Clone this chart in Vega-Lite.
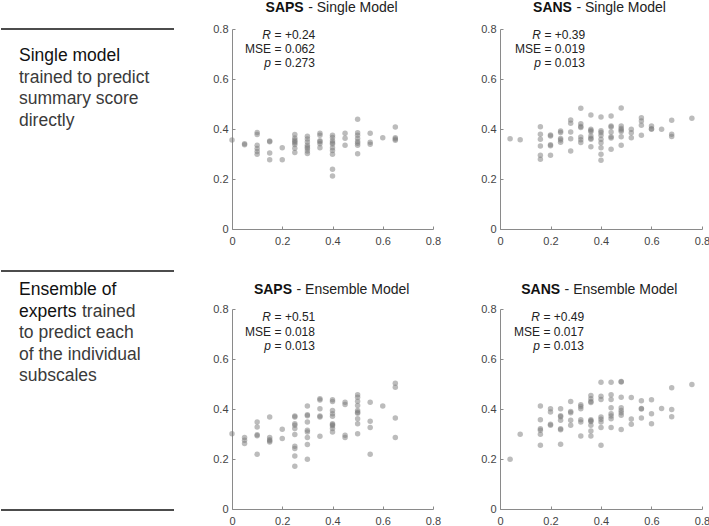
{
  "$schema": "https://vega.github.io/schema/vega-lite/v6.json",
  "padding": {"top": 1, "left": 0, "right": 0, "bottom": 0},
  "background": "white",
  "config": {
    "view": {"stroke": null},
    "font": "Liberation Sans",
    "axis": {"grid": false, "title": null}
  },
  "datasets": {
    "pts": [
      {"p":"A","x":0,"y":0.356},
      {"p":"A","x":0.05,"y":0.337},{"p":"A","x":0.05,"y":0.341},
      {"p":"A","x":0.1,"y":0.386},{"p":"A","x":0.1,"y":0.378},{"p":"A","x":0.1,"y":0.335},{"p":"A","x":0.1,"y":0.322},{"p":"A","x":0.1,"y":0.31},{"p":"A","x":0.1,"y":0.299},
      {"p":"A","x":0.15,"y":0.352},{"p":"A","x":0.15,"y":0.349},{"p":"A","x":0.15,"y":0.304},{"p":"A","x":0.15,"y":0.277},
      {"p":"A","x":0.2,"y":0.325},{"p":"A","x":0.2,"y":0.277},
      {"p":"A","x":0.25,"y":0.378},{"p":"A","x":0.25,"y":0.364},{"p":"A","x":0.25,"y":0.356},{"p":"A","x":0.25,"y":0.35},{"p":"A","x":0.25,"y":0.345},{"p":"A","x":0.25,"y":0.338},{"p":"A","x":0.25,"y":0.323},{"p":"A","x":0.25,"y":0.306},
      {"p":"A","x":0.3,"y":0.371},{"p":"A","x":0.3,"y":0.36},{"p":"A","x":0.3,"y":0.348},{"p":"A","x":0.3,"y":0.335},{"p":"A","x":0.3,"y":0.328},{"p":"A","x":0.3,"y":0.322},{"p":"A","x":0.3,"y":0.312},{"p":"A","x":0.3,"y":0.302},
      {"p":"A","x":0.35,"y":0.383},{"p":"A","x":0.35,"y":0.375},{"p":"A","x":0.35,"y":0.353},{"p":"A","x":0.35,"y":0.349},{"p":"A","x":0.35,"y":0.341},{"p":"A","x":0.35,"y":0.325},
      {"p":"A","x":0.4,"y":0.375},{"p":"A","x":0.4,"y":0.366},{"p":"A","x":0.4,"y":0.353},{"p":"A","x":0.4,"y":0.345},{"p":"A","x":0.4,"y":0.34},{"p":"A","x":0.4,"y":0.325},{"p":"A","x":0.4,"y":0.314},{"p":"A","x":0.4,"y":0.299},{"p":"A","x":0.4,"y":0.239},{"p":"A","x":0.4,"y":0.212},
      {"p":"A","x":0.45,"y":0.383},{"p":"A","x":0.45,"y":0.363},{"p":"A","x":0.45,"y":0.335},
      {"p":"A","x":0.5,"y":0.439},{"p":"A","x":0.5,"y":0.385},{"p":"A","x":0.5,"y":0.375},{"p":"A","x":0.5,"y":0.362},{"p":"A","x":0.5,"y":0.35},{"p":"A","x":0.5,"y":0.343},{"p":"A","x":0.5,"y":0.335},{"p":"A","x":0.5,"y":0.301},
      {"p":"A","x":0.55,"y":0.383},{"p":"A","x":0.55,"y":0.347},{"p":"A","x":0.55,"y":0.339},
      {"p":"A","x":0.6,"y":0.365},
      {"p":"A","x":0.65,"y":0.408},{"p":"A","x":0.65,"y":0.365},{"p":"A","x":0.65,"y":0.36},{"p":"A","x":0.65,"y":0.355},

      {"p":"B","x":0.04,"y":0.361},
      {"p":"B","x":0.08,"y":0.357},
      {"p":"B","x":0.16,"y":0.409},{"p":"B","x":0.16,"y":0.379},{"p":"B","x":0.16,"y":0.359},{"p":"B","x":0.16,"y":0.332},{"p":"B","x":0.16,"y":0.295},{"p":"B","x":0.16,"y":0.279},
      {"p":"B","x":0.2,"y":0.376},{"p":"B","x":0.2,"y":0.372},{"p":"B","x":0.2,"y":0.337},{"p":"B","x":0.2,"y":0.333},{"p":"B","x":0.2,"y":0.295},
      {"p":"B","x":0.24,"y":0.392},{"p":"B","x":0.24,"y":0.386},{"p":"B","x":0.24,"y":0.362},{"p":"B","x":0.24,"y":0.356},{"p":"B","x":0.24,"y":0.347},
      {"p":"B","x":0.28,"y":0.436},{"p":"B","x":0.28,"y":0.423},{"p":"B","x":0.28,"y":0.388},{"p":"B","x":0.28,"y":0.361},{"p":"B","x":0.28,"y":0.312},
      {"p":"B","x":0.32,"y":0.483},{"p":"B","x":0.32,"y":0.421},{"p":"B","x":0.32,"y":0.41},{"p":"B","x":0.32,"y":0.406},{"p":"B","x":0.32,"y":0.368},{"p":"B","x":0.32,"y":0.357},{"p":"B","x":0.32,"y":0.346},
      {"p":"B","x":0.36,"y":0.456},{"p":"B","x":0.36,"y":0.399},{"p":"B","x":0.36,"y":0.394},{"p":"B","x":0.36,"y":0.389},{"p":"B","x":0.36,"y":0.372},{"p":"B","x":0.36,"y":0.363},{"p":"B","x":0.36,"y":0.359},{"p":"B","x":0.36,"y":0.329},
      {"p":"B","x":0.4,"y":0.448},{"p":"B","x":0.4,"y":0.393},{"p":"B","x":0.4,"y":0.386},{"p":"B","x":0.4,"y":0.375},{"p":"B","x":0.4,"y":0.359},{"p":"B","x":0.4,"y":0.345},{"p":"B","x":0.4,"y":0.325},{"p":"B","x":0.4,"y":0.299},{"p":"B","x":0.4,"y":0.275},
      {"p":"B","x":0.44,"y":0.452},{"p":"B","x":0.44,"y":0.412},{"p":"B","x":0.44,"y":0.408},{"p":"B","x":0.44,"y":0.388},{"p":"B","x":0.44,"y":0.369},{"p":"B","x":0.44,"y":0.364},{"p":"B","x":0.44,"y":0.319},
      {"p":"B","x":0.48,"y":0.484},{"p":"B","x":0.48,"y":0.412},{"p":"B","x":0.48,"y":0.402},{"p":"B","x":0.48,"y":0.396},{"p":"B","x":0.48,"y":0.39},{"p":"B","x":0.48,"y":0.369},{"p":"B","x":0.48,"y":0.335},
      {"p":"B","x":0.52,"y":0.399},{"p":"B","x":0.52,"y":0.385},{"p":"B","x":0.52,"y":0.365},
      {"p":"B","x":0.56,"y":0.445},{"p":"B","x":0.56,"y":0.432},{"p":"B","x":0.56,"y":0.415},{"p":"B","x":0.56,"y":0.375},
      {"p":"B","x":0.6,"y":0.412},{"p":"B","x":0.6,"y":0.401},{"p":"B","x":0.6,"y":0.399},
      {"p":"B","x":0.64,"y":0.399},
      {"p":"B","x":0.68,"y":0.435},{"p":"B","x":0.68,"y":0.379},{"p":"B","x":0.68,"y":0.37},
      {"p":"B","x":0.76,"y":0.443},

      {"p":"C","x":0,"y":0.301},
      {"p":"C","x":0.05,"y":0.286},{"p":"C","x":0.05,"y":0.275},{"p":"C","x":0.05,"y":0.262},
      {"p":"C","x":0.1,"y":0.348},{"p":"C","x":0.1,"y":0.328},{"p":"C","x":0.1,"y":0.297},{"p":"C","x":0.1,"y":0.293},{"p":"C","x":0.1,"y":0.219},
      {"p":"C","x":0.15,"y":0.368},{"p":"C","x":0.15,"y":0.286},{"p":"C","x":0.15,"y":0.277},{"p":"C","x":0.15,"y":0.273},{"p":"C","x":0.15,"y":0.268},
      {"p":"C","x":0.2,"y":0.319},{"p":"C","x":0.2,"y":0.282},
      {"p":"C","x":0.25,"y":0.372},{"p":"C","x":0.25,"y":0.368},{"p":"C","x":0.25,"y":0.341},{"p":"C","x":0.25,"y":0.335},{"p":"C","x":0.25,"y":0.322},{"p":"C","x":0.25,"y":0.298},{"p":"C","x":0.25,"y":0.251},{"p":"C","x":0.25,"y":0.242},{"p":"C","x":0.25,"y":0.212},{"p":"C","x":0.25,"y":0.171},
      {"p":"C","x":0.3,"y":0.412},{"p":"C","x":0.3,"y":0.377},{"p":"C","x":0.3,"y":0.373},{"p":"C","x":0.3,"y":0.348},{"p":"C","x":0.3,"y":0.315},{"p":"C","x":0.3,"y":0.308},{"p":"C","x":0.3,"y":0.286},{"p":"C","x":0.3,"y":0.258},{"p":"C","x":0.3,"y":0.199},
      {"p":"C","x":0.35,"y":0.441},{"p":"C","x":0.35,"y":0.436},{"p":"C","x":0.35,"y":0.401},{"p":"C","x":0.35,"y":0.372},{"p":"C","x":0.35,"y":0.368},{"p":"C","x":0.35,"y":0.291},
      {"p":"C","x":0.4,"y":0.437},{"p":"C","x":0.4,"y":0.43},{"p":"C","x":0.4,"y":0.394},{"p":"C","x":0.4,"y":0.381},{"p":"C","x":0.4,"y":0.371},{"p":"C","x":0.4,"y":0.341},{"p":"C","x":0.4,"y":0.337},{"p":"C","x":0.4,"y":0.333},{"p":"C","x":0.4,"y":0.322},{"p":"C","x":0.4,"y":0.308},
      {"p":"C","x":0.45,"y":0.427},{"p":"C","x":0.45,"y":0.418},{"p":"C","x":0.45,"y":0.295},{"p":"C","x":0.45,"y":0.286},
      {"p":"C","x":0.5,"y":0.457},{"p":"C","x":0.5,"y":0.447},{"p":"C","x":0.5,"y":0.431},{"p":"C","x":0.5,"y":0.414},{"p":"C","x":0.5,"y":0.394},{"p":"C","x":0.5,"y":0.387},{"p":"C","x":0.5,"y":0.383},{"p":"C","x":0.5,"y":0.361},{"p":"C","x":0.5,"y":0.341},{"p":"C","x":0.5,"y":0.301},
      {"p":"C","x":0.55,"y":0.427},{"p":"C","x":0.55,"y":0.351},{"p":"C","x":0.55,"y":0.326},{"p":"C","x":0.55,"y":0.219},
      {"p":"C","x":0.6,"y":0.412},
      {"p":"C","x":0.65,"y":0.503},{"p":"C","x":0.65,"y":0.487},{"p":"C","x":0.65,"y":0.364},{"p":"C","x":0.65,"y":0.286},

      {"p":"D","x":0.04,"y":0.199},
      {"p":"D","x":0.08,"y":0.299},
      {"p":"D","x":0.16,"y":0.412},{"p":"D","x":0.16,"y":0.357},{"p":"D","x":0.16,"y":0.321},{"p":"D","x":0.16,"y":0.315},{"p":"D","x":0.16,"y":0.299},{"p":"D","x":0.16,"y":0.255},
      {"p":"D","x":0.2,"y":0.401},{"p":"D","x":0.2,"y":0.388},{"p":"D","x":0.2,"y":0.339},{"p":"D","x":0.2,"y":0.335},
      {"p":"D","x":0.24,"y":0.401},{"p":"D","x":0.24,"y":0.373},{"p":"D","x":0.24,"y":0.369},{"p":"D","x":0.24,"y":0.355},{"p":"D","x":0.24,"y":0.321},{"p":"D","x":0.24,"y":0.317},{"p":"D","x":0.24,"y":0.259},
      {"p":"D","x":0.28,"y":0.43},{"p":"D","x":0.28,"y":0.39},{"p":"D","x":0.28,"y":0.385},{"p":"D","x":0.28,"y":0.355},{"p":"D","x":0.28,"y":0.335},
      {"p":"D","x":0.32,"y":0.417},{"p":"D","x":0.32,"y":0.41},{"p":"D","x":0.32,"y":0.401},{"p":"D","x":0.32,"y":0.357},{"p":"D","x":0.32,"y":0.348},{"p":"D","x":0.32,"y":0.292},
      {"p":"D","x":0.36,"y":0.454},{"p":"D","x":0.36,"y":0.441},{"p":"D","x":0.36,"y":0.43},{"p":"D","x":0.36,"y":0.426},{"p":"D","x":0.36,"y":0.357},{"p":"D","x":0.36,"y":0.353},{"p":"D","x":0.36,"y":0.35},{"p":"D","x":0.36,"y":0.335},{"p":"D","x":0.36,"y":0.312},{"p":"D","x":0.36,"y":0.292},
      {"p":"D","x":0.4,"y":0.507},{"p":"D","x":0.4,"y":0.451},{"p":"D","x":0.4,"y":0.438},{"p":"D","x":0.4,"y":0.368},{"p":"D","x":0.4,"y":0.359},{"p":"D","x":0.4,"y":0.348},{"p":"D","x":0.4,"y":0.326},{"p":"D","x":0.4,"y":0.255},
      {"p":"D","x":0.44,"y":0.507},{"p":"D","x":0.44,"y":0.457},{"p":"D","x":0.44,"y":0.438},{"p":"D","x":0.44,"y":0.405},{"p":"D","x":0.44,"y":0.381},{"p":"D","x":0.44,"y":0.372},{"p":"D","x":0.44,"y":0.361},{"p":"D","x":0.44,"y":0.326},
      {"p":"D","x":0.48,"y":0.51},{"p":"D","x":0.48,"y":0.508},{"p":"D","x":0.48,"y":0.447},{"p":"D","x":0.48,"y":0.405},{"p":"D","x":0.48,"y":0.394},{"p":"D","x":0.48,"y":0.385},{"p":"D","x":0.48,"y":0.375},{"p":"D","x":0.48,"y":0.318},
      {"p":"D","x":0.52,"y":0.446},{"p":"D","x":0.52,"y":0.36},{"p":"D","x":0.52,"y":0.339},
      {"p":"D","x":0.56,"y":0.433},{"p":"D","x":0.56,"y":0.402},{"p":"D","x":0.56,"y":0.4},{"p":"D","x":0.56,"y":0.364},
      {"p":"D","x":0.6,"y":0.437},{"p":"D","x":0.6,"y":0.381},{"p":"D","x":0.6,"y":0.341},
      {"p":"D","x":0.64,"y":0.402},
      {"p":"D","x":0.68,"y":0.485},{"p":"D","x":0.68,"y":0.398},{"p":"D","x":0.68,"y":0.369},
      {"p":"D","x":0.76,"y":0.498}
    ]
  },
  "columns": 3,
  "spacing": {"row": 80, "column": 67},
  "bounds": "flush",
  "concat": [
    {
      "width": 164, "height": 200,
      "layer": [
        {"data": {"values": [{}]}, "mark": {"type": "rule", "color": "#111111", "strokeWidth": 1.5},
         "encoding": {"x": {"datum": 0, "type": "quantitative", "scale": {"domain": [0, 164], "nice": false}, "axis": null}, "x2": {"datum": 173}, "y": {"datum": 0.8, "type": "quantitative", "scale": {"domain": [0, 0.8], "nice": false}, "axis": null}}},
        {"data": {"values": [{}]}, "mark": {"type": "text", "fontSize": 17.5, "align": "left", "baseline": "middle", "color": "#111111"},
         "encoding": {"x": {"datum": 18, "type": "quantitative", "scale": {"domain": [0, 164], "nice": false}, "axis": null}, "y": {"datum": 0.692, "type": "quantitative", "scale": {"domain": [0, 0.8], "nice": false}, "axis": null}, "text": {"value": "Single model"}}},
        {"data": {"values": [{}]}, "mark": {"type": "text", "fontSize": 17.5, "align": "left", "baseline": "middle", "color": "#3a3a3a"},
         "encoding": {"x": {"datum": 18, "type": "quantitative", "scale": {"domain": [0, 164], "nice": false}, "axis": null}, "y": {"datum": 0.606, "type": "quantitative", "scale": {"domain": [0, 0.8], "nice": false}, "axis": null}, "text": {"value": "trained to predict"}}},
        {"data": {"values": [{}]}, "mark": {"type": "text", "fontSize": 17.5, "align": "left", "baseline": "middle", "color": "#3a3a3a"},
         "encoding": {"x": {"datum": 18, "type": "quantitative", "scale": {"domain": [0, 164], "nice": false}, "axis": null}, "y": {"datum": 0.52, "type": "quantitative", "scale": {"domain": [0, 0.8], "nice": false}, "axis": null}, "text": {"value": "summary score"}}},
        {"data": {"values": [{}]}, "mark": {"type": "text", "fontSize": 17.5, "align": "left", "baseline": "middle", "color": "#3a3a3a"},
         "encoding": {"x": {"datum": 18, "type": "quantitative", "scale": {"domain": [0, 164], "nice": false}, "axis": null}, "y": {"datum": 0.434, "type": "quantitative", "scale": {"domain": [0, 0.8], "nice": false}, "axis": null}, "text": {"value": "directly"}}}
      ]
    },
    {
      "width": 201, "height": 200,
      "layer": [
        {"data": {"name": "pts"}, "transform": [{"filter": "datum.p === 'A'"}],
         "mark": {"type": "circle", "size": 30, "color": "#7a7a7a", "opacity": 0.5},
         "encoding": {
           "x": {"field": "x", "type": "quantitative", "scale": {"domain": [0, 0.8], "nice": false},
                 "axis": {"title": null, "grid": false, "values": [0, 0.2, 0.4, 0.6, 0.8], "format": "~g", "labelFlush": false, "domainColor": "#8a8a8a", "tickColor": "#8a8a8a", "tickSize": -3, "labelColor": "#444444", "labelFontSize": 11, "labelPadding": 9}},
           "y": {"field": "y", "type": "quantitative", "scale": {"domain": [0, 0.8], "nice": false},
                 "axis": {"title": null, "grid": false, "values": [0, 0.2, 0.4, 0.6, 0.8], "format": "~g", "labelFlush": false, "domainColor": "#8a8a8a", "tickColor": "#8a8a8a", "tickSize": -3, "labelColor": "#444444", "labelFontSize": 11, "labelPadding": 7}}}},
        {"data": {"values": [{}]}, "mark": {"type": "text", "fontSize": 14, "fontWeight": "bold", "align": "right", "baseline": "middle", "color": "#111111"},
         "encoding": {"x": {"datum": 0.2854, "type": "quantitative", "scale": {"domain": [0, 0.8], "nice": false}}, "y": {"datum": 0.884, "type": "quantitative", "scale": {"domain": [0, 0.8], "nice": false}}, "text": {"value": "SAPS"}}},
        {"data": {"values": [{}]}, "mark": {"type": "text", "fontSize": 14, "align": "left", "baseline": "middle", "color": "#222222", "dx": 4.5},
         "encoding": {"x": {"datum": 0.2854, "type": "quantitative", "scale": {"domain": [0, 0.8], "nice": false}}, "y": {"datum": 0.884, "type": "quantitative", "scale": {"domain": [0, 0.8], "nice": false}}, "text": {"value": "- Single Model"}}},
        {"data": {"values": [{}]}, "mark": {"type": "text", "fontSize": 12, "fontStyle": "italic", "align": "right", "baseline": "middle", "color": "#222222"},
         "encoding": {"x": {"datum": 0.155, "type": "quantitative", "scale": {"domain": [0, 0.8], "nice": false}}, "y": {"datum": 0.778, "type": "quantitative", "scale": {"domain": [0, 0.8], "nice": false}}, "text": {"value": "R"}}},
        {"data": {"values": [{}]}, "mark": {"type": "text", "fontSize": 12, "align": "right", "baseline": "middle", "color": "#222222"},
         "encoding": {"x": {"datum": 0.155, "type": "quantitative", "scale": {"domain": [0, 0.8], "nice": false}}, "y": {"datum": 0.72, "type": "quantitative", "scale": {"domain": [0, 0.8], "nice": false}}, "text": {"value": "MSE"}}},
        {"data": {"values": [{}]}, "mark": {"type": "text", "fontSize": 12, "fontStyle": "italic", "align": "right", "baseline": "middle", "color": "#222222"},
         "encoding": {"x": {"datum": 0.155, "type": "quantitative", "scale": {"domain": [0, 0.8], "nice": false}}, "y": {"datum": 0.664, "type": "quantitative", "scale": {"domain": [0, 0.8], "nice": false}}, "text": {"value": "p"}}},
        {"data": {"values": [{}]}, "mark": {"type": "text", "fontSize": 12, "align": "left", "baseline": "middle", "color": "#222222", "dx": 3.6},
         "encoding": {"x": {"datum": 0.155, "type": "quantitative", "scale": {"domain": [0, 0.8], "nice": false}}, "y": {"datum": 0.778, "type": "quantitative", "scale": {"domain": [0, 0.8], "nice": false}}, "text": {"value": "= +0.24"}}},
        {"data": {"values": [{}]}, "mark": {"type": "text", "fontSize": 12, "align": "left", "baseline": "middle", "color": "#222222", "dx": 3.6},
         "encoding": {"x": {"datum": 0.155, "type": "quantitative", "scale": {"domain": [0, 0.8], "nice": false}}, "y": {"datum": 0.72, "type": "quantitative", "scale": {"domain": [0, 0.8], "nice": false}}, "text": {"value": "= 0.062"}}},
        {"data": {"values": [{}]}, "mark": {"type": "text", "fontSize": 12, "align": "left", "baseline": "middle", "color": "#222222", "dx": 3.6},
         "encoding": {"x": {"datum": 0.155, "type": "quantitative", "scale": {"domain": [0, 0.8], "nice": false}}, "y": {"datum": 0.664, "type": "quantitative", "scale": {"domain": [0, 0.8], "nice": false}}, "text": {"value": "= 0.273"}}}
      ]
    },
    {
      "width": 202, "height": 200,
      "layer": [
        {"data": {"name": "pts"}, "transform": [{"filter": "datum.p === 'B'"}],
         "mark": {"type": "circle", "size": 30, "color": "#7a7a7a", "opacity": 0.5},
         "encoding": {
           "x": {"field": "x", "type": "quantitative", "scale": {"domain": [0, 0.8], "nice": false},
                 "axis": {"title": null, "grid": false, "values": [0, 0.2, 0.4, 0.6, 0.8], "format": "~g", "labelFlush": false, "domainColor": "#8a8a8a", "tickColor": "#8a8a8a", "tickSize": -3, "labelColor": "#444444", "labelFontSize": 11, "labelPadding": 9}},
           "y": {"field": "y", "type": "quantitative", "scale": {"domain": [0, 0.8], "nice": false},
                 "axis": {"title": null, "grid": false, "values": [0, 0.2, 0.4, 0.6, 0.8], "format": "~g", "labelFlush": false, "domainColor": "#8a8a8a", "tickColor": "#8a8a8a", "tickSize": -3, "labelColor": "#444444", "labelFontSize": 11, "labelPadding": 7}}}},
        {"data": {"values": [{}]}, "mark": {"type": "text", "fontSize": 14, "fontWeight": "bold", "align": "right", "baseline": "middle", "color": "#111111"},
         "encoding": {"x": {"datum": 0.285, "type": "quantitative", "scale": {"domain": [0, 0.8], "nice": false}}, "y": {"datum": 0.884, "type": "quantitative", "scale": {"domain": [0, 0.8], "nice": false}}, "text": {"value": "SANS"}}},
        {"data": {"values": [{}]}, "mark": {"type": "text", "fontSize": 14, "align": "left", "baseline": "middle", "color": "#222222", "dx": 4.5},
         "encoding": {"x": {"datum": 0.285, "type": "quantitative", "scale": {"domain": [0, 0.8], "nice": false}}, "y": {"datum": 0.884, "type": "quantitative", "scale": {"domain": [0, 0.8], "nice": false}}, "text": {"value": "- Single Model"}}},
        {"data": {"values": [{}]}, "mark": {"type": "text", "fontSize": 12, "fontStyle": "italic", "align": "right", "baseline": "middle", "color": "#222222"},
         "encoding": {"x": {"datum": 0.162, "type": "quantitative", "scale": {"domain": [0, 0.8], "nice": false}}, "y": {"datum": 0.778, "type": "quantitative", "scale": {"domain": [0, 0.8], "nice": false}}, "text": {"value": "R"}}},
        {"data": {"values": [{}]}, "mark": {"type": "text", "fontSize": 12, "align": "right", "baseline": "middle", "color": "#222222"},
         "encoding": {"x": {"datum": 0.162, "type": "quantitative", "scale": {"domain": [0, 0.8], "nice": false}}, "y": {"datum": 0.72, "type": "quantitative", "scale": {"domain": [0, 0.8], "nice": false}}, "text": {"value": "MSE"}}},
        {"data": {"values": [{}]}, "mark": {"type": "text", "fontSize": 12, "fontStyle": "italic", "align": "right", "baseline": "middle", "color": "#222222"},
         "encoding": {"x": {"datum": 0.162, "type": "quantitative", "scale": {"domain": [0, 0.8], "nice": false}}, "y": {"datum": 0.664, "type": "quantitative", "scale": {"domain": [0, 0.8], "nice": false}}, "text": {"value": "p"}}},
        {"data": {"values": [{}]}, "mark": {"type": "text", "fontSize": 12, "align": "left", "baseline": "middle", "color": "#222222", "dx": 3.6},
         "encoding": {"x": {"datum": 0.162, "type": "quantitative", "scale": {"domain": [0, 0.8], "nice": false}}, "y": {"datum": 0.778, "type": "quantitative", "scale": {"domain": [0, 0.8], "nice": false}}, "text": {"value": "= +0.39"}}},
        {"data": {"values": [{}]}, "mark": {"type": "text", "fontSize": 12, "align": "left", "baseline": "middle", "color": "#222222", "dx": 3.6},
         "encoding": {"x": {"datum": 0.162, "type": "quantitative", "scale": {"domain": [0, 0.8], "nice": false}}, "y": {"datum": 0.72, "type": "quantitative", "scale": {"domain": [0, 0.8], "nice": false}}, "text": {"value": "= 0.019"}}},
        {"data": {"values": [{}]}, "mark": {"type": "text", "fontSize": 12, "align": "left", "baseline": "middle", "color": "#222222", "dx": 3.6},
         "encoding": {"x": {"datum": 0.162, "type": "quantitative", "scale": {"domain": [0, 0.8], "nice": false}}, "y": {"datum": 0.664, "type": "quantitative", "scale": {"domain": [0, 0.8], "nice": false}}, "text": {"value": "= 0.013"}}}
      ]
    },
    {
      "width": 164, "height": 200,
      "layer": [
        {"data": {"values": [{}]}, "mark": {"type": "rule", "color": "#111111", "strokeWidth": 1.5},
         "encoding": {"x": {"datum": 0, "type": "quantitative", "scale": {"domain": [0, 164], "nice": false}, "axis": null}, "x2": {"datum": 173}, "y": {"datum": 0.952, "type": "quantitative", "scale": {"domain": [0, 0.8], "nice": false}, "axis": null}}},
        {"data": {"values": [{}]}, "mark": {"type": "rule", "color": "#111111", "strokeWidth": 1.5},
         "encoding": {"x": {"datum": 0, "type": "quantitative", "scale": {"domain": [0, 164], "nice": false}, "axis": null}, "x2": {"datum": 173}, "y": {"datum": -0.004, "type": "quantitative", "scale": {"domain": [0, 0.8], "nice": false}, "axis": null}}},
        {"data": {"values": [{}]}, "mark": {"type": "text", "fontSize": 17.5, "align": "left", "baseline": "middle", "color": "#111111"},
         "encoding": {"x": {"datum": 18, "type": "quantitative", "scale": {"domain": [0, 164], "nice": false}, "axis": null}, "y": {"datum": 0.876, "type": "quantitative", "scale": {"domain": [0, 0.8], "nice": false}, "axis": null}, "text": {"value": "Ensemble of"}}},
        {"data": {"values": [{}]}, "mark": {"type": "text", "fontSize": 17.5, "align": "left", "baseline": "middle", "color": "#111111"},
         "encoding": {"x": {"datum": 18, "type": "quantitative", "scale": {"domain": [0, 164], "nice": false}, "axis": null}, "y": {"datum": 0.788, "type": "quantitative", "scale": {"domain": [0, 0.8], "nice": false}, "axis": null}, "text": {"value": "experts"}}},
        {"data": {"values": [{}]}, "mark": {"type": "text", "fontSize": 17.5, "align": "left", "baseline": "middle", "color": "#3a3a3a"},
         "encoding": {"x": {"datum": 81, "type": "quantitative", "scale": {"domain": [0, 164], "nice": false}, "axis": null}, "y": {"datum": 0.788, "type": "quantitative", "scale": {"domain": [0, 0.8], "nice": false}, "axis": null}, "text": {"value": "trained"}}},
        {"data": {"values": [{}]}, "mark": {"type": "text", "fontSize": 17.5, "align": "left", "baseline": "middle", "color": "#3a3a3a"},
         "encoding": {"x": {"datum": 18, "type": "quantitative", "scale": {"domain": [0, 164], "nice": false}, "axis": null}, "y": {"datum": 0.704, "type": "quantitative", "scale": {"domain": [0, 0.8], "nice": false}, "axis": null}, "text": {"value": "to predict each"}}},
        {"data": {"values": [{}]}, "mark": {"type": "text", "fontSize": 17.5, "align": "left", "baseline": "middle", "color": "#3a3a3a"},
         "encoding": {"x": {"datum": 18, "type": "quantitative", "scale": {"domain": [0, 164], "nice": false}, "axis": null}, "y": {"datum": 0.616, "type": "quantitative", "scale": {"domain": [0, 0.8], "nice": false}, "axis": null}, "text": {"value": "of the individual"}}},
        {"data": {"values": [{}]}, "mark": {"type": "text", "fontSize": 17.5, "align": "left", "baseline": "middle", "color": "#3a3a3a"},
         "encoding": {"x": {"datum": 18, "type": "quantitative", "scale": {"domain": [0, 164], "nice": false}, "axis": null}, "y": {"datum": 0.532, "type": "quantitative", "scale": {"domain": [0, 0.8], "nice": false}, "axis": null}, "text": {"value": "subscales"}}}
      ]
    },
    {
      "width": 201, "height": 200,
      "layer": [
        {"data": {"name": "pts"}, "transform": [{"filter": "datum.p === 'C'"}],
         "mark": {"type": "circle", "size": 30, "color": "#7a7a7a", "opacity": 0.5},
         "encoding": {
           "x": {"field": "x", "type": "quantitative", "scale": {"domain": [0, 0.8], "nice": false},
                 "axis": {"title": null, "grid": false, "values": [0, 0.2, 0.4, 0.6, 0.8], "format": "~g", "labelFlush": false, "domainColor": "#8a8a8a", "tickColor": "#8a8a8a", "tickSize": -3, "labelColor": "#444444", "labelFontSize": 11, "labelPadding": 9}},
           "y": {"field": "y", "type": "quantitative", "scale": {"domain": [0, 0.8], "nice": false},
                 "axis": {"title": null, "grid": false, "values": [0, 0.2, 0.4, 0.6, 0.8], "format": "~g", "labelFlush": false, "domainColor": "#8a8a8a", "tickColor": "#8a8a8a", "tickSize": -3, "labelColor": "#444444", "labelFontSize": 11, "labelPadding": 7}}}},
        {"data": {"values": [{}]}, "mark": {"type": "text", "fontSize": 14, "fontWeight": "bold", "align": "right", "baseline": "middle", "color": "#111111"},
         "encoding": {"x": {"datum": 0.239, "type": "quantitative", "scale": {"domain": [0, 0.8], "nice": false}}, "y": {"datum": 0.876, "type": "quantitative", "scale": {"domain": [0, 0.8], "nice": false}}, "text": {"value": "SAPS"}}},
        {"data": {"values": [{}]}, "mark": {"type": "text", "fontSize": 14, "align": "left", "baseline": "middle", "color": "#222222", "dx": 4.5},
         "encoding": {"x": {"datum": 0.239, "type": "quantitative", "scale": {"domain": [0, 0.8], "nice": false}}, "y": {"datum": 0.876, "type": "quantitative", "scale": {"domain": [0, 0.8], "nice": false}}, "text": {"value": "- Ensemble Model"}}},
        {"data": {"values": [{}]}, "mark": {"type": "text", "fontSize": 12, "fontStyle": "italic", "align": "right", "baseline": "middle", "color": "#222222"},
         "encoding": {"x": {"datum": 0.155, "type": "quantitative", "scale": {"domain": [0, 0.8], "nice": false}}, "y": {"datum": 0.767, "type": "quantitative", "scale": {"domain": [0, 0.8], "nice": false}}, "text": {"value": "R"}}},
        {"data": {"values": [{}]}, "mark": {"type": "text", "fontSize": 12, "align": "right", "baseline": "middle", "color": "#222222"},
         "encoding": {"x": {"datum": 0.155, "type": "quantitative", "scale": {"domain": [0, 0.8], "nice": false}}, "y": {"datum": 0.71, "type": "quantitative", "scale": {"domain": [0, 0.8], "nice": false}}, "text": {"value": "MSE"}}},
        {"data": {"values": [{}]}, "mark": {"type": "text", "fontSize": 12, "fontStyle": "italic", "align": "right", "baseline": "middle", "color": "#222222"},
         "encoding": {"x": {"datum": 0.155, "type": "quantitative", "scale": {"domain": [0, 0.8], "nice": false}}, "y": {"datum": 0.651, "type": "quantitative", "scale": {"domain": [0, 0.8], "nice": false}}, "text": {"value": "p"}}},
        {"data": {"values": [{}]}, "mark": {"type": "text", "fontSize": 12, "align": "left", "baseline": "middle", "color": "#222222", "dx": 3.6},
         "encoding": {"x": {"datum": 0.155, "type": "quantitative", "scale": {"domain": [0, 0.8], "nice": false}}, "y": {"datum": 0.767, "type": "quantitative", "scale": {"domain": [0, 0.8], "nice": false}}, "text": {"value": "= +0.51"}}},
        {"data": {"values": [{}]}, "mark": {"type": "text", "fontSize": 12, "align": "left", "baseline": "middle", "color": "#222222", "dx": 3.6},
         "encoding": {"x": {"datum": 0.155, "type": "quantitative", "scale": {"domain": [0, 0.8], "nice": false}}, "y": {"datum": 0.71, "type": "quantitative", "scale": {"domain": [0, 0.8], "nice": false}}, "text": {"value": "= 0.018"}}},
        {"data": {"values": [{}]}, "mark": {"type": "text", "fontSize": 12, "align": "left", "baseline": "middle", "color": "#222222", "dx": 3.6},
         "encoding": {"x": {"datum": 0.155, "type": "quantitative", "scale": {"domain": [0, 0.8], "nice": false}}, "y": {"datum": 0.651, "type": "quantitative", "scale": {"domain": [0, 0.8], "nice": false}}, "text": {"value": "= 0.013"}}}
      ]
    },
    {
      "width": 202, "height": 200,
      "layer": [
        {"data": {"name": "pts"}, "transform": [{"filter": "datum.p === 'D'"}],
         "mark": {"type": "circle", "size": 30, "color": "#7a7a7a", "opacity": 0.5},
         "encoding": {
           "x": {"field": "x", "type": "quantitative", "scale": {"domain": [0, 0.8], "nice": false},
                 "axis": {"title": null, "grid": false, "values": [0, 0.2, 0.4, 0.6, 0.8], "format": "~g", "labelFlush": false, "domainColor": "#8a8a8a", "tickColor": "#8a8a8a", "tickSize": -3, "labelColor": "#444444", "labelFontSize": 11, "labelPadding": 9}},
           "y": {"field": "y", "type": "quantitative", "scale": {"domain": [0, 0.8], "nice": false},
                 "axis": {"title": null, "grid": false, "values": [0, 0.2, 0.4, 0.6, 0.8], "format": "~g", "labelFlush": false, "domainColor": "#8a8a8a", "tickColor": "#8a8a8a", "tickSize": -3, "labelColor": "#444444", "labelFontSize": 11, "labelPadding": 7}}}},
        {"data": {"values": [{}]}, "mark": {"type": "text", "fontSize": 14, "fontWeight": "bold", "align": "right", "baseline": "middle", "color": "#111111"},
         "encoding": {"x": {"datum": 0.238, "type": "quantitative", "scale": {"domain": [0, 0.8], "nice": false}}, "y": {"datum": 0.876, "type": "quantitative", "scale": {"domain": [0, 0.8], "nice": false}}, "text": {"value": "SANS"}}},
        {"data": {"values": [{}]}, "mark": {"type": "text", "fontSize": 14, "align": "left", "baseline": "middle", "color": "#222222", "dx": 4.5},
         "encoding": {"x": {"datum": 0.238, "type": "quantitative", "scale": {"domain": [0, 0.8], "nice": false}}, "y": {"datum": 0.876, "type": "quantitative", "scale": {"domain": [0, 0.8], "nice": false}}, "text": {"value": "- Ensemble Model"}}},
        {"data": {"values": [{}]}, "mark": {"type": "text", "fontSize": 12, "fontStyle": "italic", "align": "right", "baseline": "middle", "color": "#222222"},
         "encoding": {"x": {"datum": 0.158, "type": "quantitative", "scale": {"domain": [0, 0.8], "nice": false}}, "y": {"datum": 0.767, "type": "quantitative", "scale": {"domain": [0, 0.8], "nice": false}}, "text": {"value": "R"}}},
        {"data": {"values": [{}]}, "mark": {"type": "text", "fontSize": 12, "align": "right", "baseline": "middle", "color": "#222222"},
         "encoding": {"x": {"datum": 0.158, "type": "quantitative", "scale": {"domain": [0, 0.8], "nice": false}}, "y": {"datum": 0.71, "type": "quantitative", "scale": {"domain": [0, 0.8], "nice": false}}, "text": {"value": "MSE"}}},
        {"data": {"values": [{}]}, "mark": {"type": "text", "fontSize": 12, "fontStyle": "italic", "align": "right", "baseline": "middle", "color": "#222222"},
         "encoding": {"x": {"datum": 0.158, "type": "quantitative", "scale": {"domain": [0, 0.8], "nice": false}}, "y": {"datum": 0.651, "type": "quantitative", "scale": {"domain": [0, 0.8], "nice": false}}, "text": {"value": "p"}}},
        {"data": {"values": [{}]}, "mark": {"type": "text", "fontSize": 12, "align": "left", "baseline": "middle", "color": "#222222", "dx": 3.6},
         "encoding": {"x": {"datum": 0.158, "type": "quantitative", "scale": {"domain": [0, 0.8], "nice": false}}, "y": {"datum": 0.767, "type": "quantitative", "scale": {"domain": [0, 0.8], "nice": false}}, "text": {"value": "= +0.49"}}},
        {"data": {"values": [{}]}, "mark": {"type": "text", "fontSize": 12, "align": "left", "baseline": "middle", "color": "#222222", "dx": 3.6},
         "encoding": {"x": {"datum": 0.158, "type": "quantitative", "scale": {"domain": [0, 0.8], "nice": false}}, "y": {"datum": 0.71, "type": "quantitative", "scale": {"domain": [0, 0.8], "nice": false}}, "text": {"value": "= 0.017"}}},
        {"data": {"values": [{}]}, "mark": {"type": "text", "fontSize": 12, "align": "left", "baseline": "middle", "color": "#222222", "dx": 3.6},
         "encoding": {"x": {"datum": 0.158, "type": "quantitative", "scale": {"domain": [0, 0.8], "nice": false}}, "y": {"datum": 0.651, "type": "quantitative", "scale": {"domain": [0, 0.8], "nice": false}}, "text": {"value": "= 0.013"}}}
      ]
    }
  ]
}
